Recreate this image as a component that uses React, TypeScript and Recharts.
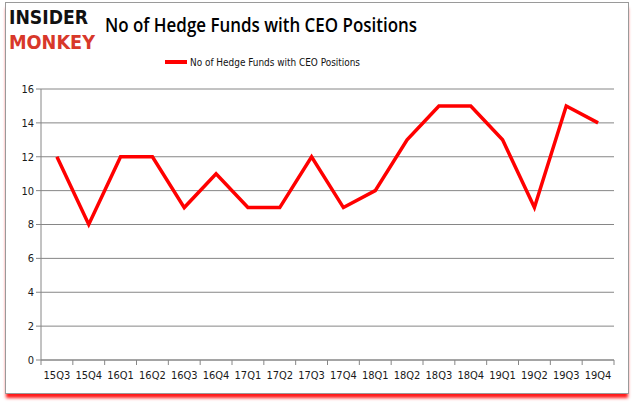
import { CartesianGrid, Line, LineChart, XAxis, YAxis } from "recharts";

const quarters = ["15Q3", "15Q4", "16Q1", "16Q2", "16Q3", "16Q4", "17Q1", "17Q2", "17Q3", "17Q4", "18Q1", "18Q2", "18Q3", "18Q4", "19Q1", "19Q2", "19Q3", "19Q4"];
const hedgeFunds = [12, 8, 12, 12, 9, 11, 9, 9, 12, 9, 10, 13, 15, 15, 13, 9, 15, 14];
const yTicks = [0, 2, 4, 6, 8, 10, 12, 14, 16];
const seriesName = "No of Hedge Funds with CEO Positions";

const data = quarters.map((q, i) => ({ q, v: hedgeFunds[i] }));

const PLOT_LEFT = 41;
const PLOT_RIGHT = 614;
const BAND = (PLOT_RIGHT - PLOT_LEFT) / quarters.length;

function QuarterTick(props: any) {
  const { x, y, payload, index } = props;
  return (
    <g>
      {index === 0 && <line x1={x - BAND / 2} x2={x - BAND / 2} y1={y - 8} y2={y - 3} stroke="#868686" />}
      <line x1={x + BAND / 2} x2={x + BAND / 2} y1={y - 8} y2={y - 3} stroke="#868686" />
      <text x={x} y={y + 11} textAnchor="middle" fontSize={11} fill="#1a1a1a" fontFamily="'DejaVu Sans Condensed', 'Liberation Sans Narrow', sans-serif">
        {payload.value}
      </text>
    </g>
  );
}

export default function App() {
  return (
    <div style={{ position: "absolute", left: 0, top: 0, width: 635, height: 405, background: "#fff", fontFamily: "'Liberation Sans', sans-serif" }}>
      <div style={{ position: "absolute", left: 5, top: 2, width: 622, height: 390, border: "1px solid #9a9a9a", boxShadow: "0 5px 3px -1px #ff1a1a" }} />
      <svg width={635} height={80} style={{ position: "absolute", left: 0, top: 0 }}>
        {/* logo */}
        <text x={9} y={24} fontSize={20} fontWeight={900} fill="#111" textLength={79} lengthAdjust="spacingAndGlyphs" fontFamily="'DejaVu Sans Condensed', sans-serif">INSIDER</text>
        <text x={9} y={49} fontSize={20} fontWeight={900} fill="#d8382a" textLength={86} lengthAdjust="spacingAndGlyphs" fontFamily="'DejaVu Sans Condensed', sans-serif">MONKEY</text>
        <text x={105} y={32} fontSize={20} fill="#000" textLength={312} lengthAdjust="spacingAndGlyphs" fontFamily="'Open Sans', sans-serif" fontWeight={600}>{seriesName}</text>
        <line x1={165} x2={187} y1={62} y2={62} stroke="#ff0000" strokeWidth={4} />
        <text x={190} y={66} fontSize={11} fill="#111" textLength={170} lengthAdjust="spacingAndGlyphs" fontFamily="'DejaVu Sans Condensed', sans-serif">{seriesName}</text>
      </svg>
      <div style={{ position: "absolute", left: 0, top: 0 }}>
        <LineChart width={635} height={405} data={data} margin={{ top: 89, right: 635 - PLOT_RIGHT, bottom: 15, left: 0 }}>
          <CartesianGrid vertical={false} stroke="#868686" strokeWidth={1} />
          <XAxis
            dataKey="q"
            height={30}
            padding={{ left: BAND / 2, right: BAND / 2 }}
            stroke="#868686"
            tickLine={false}
            interval={0}
            tick={<QuarterTick />}
          />
          <YAxis
            width={PLOT_LEFT}
            domain={[0, 16]}
            ticks={yTicks}
            interval={0}
            stroke="#868686"
            tickSize={5}
            tick={{ fontSize: 11, fill: "#1a1a1a", fontFamily: "'DejaVu Sans Condensed', sans-serif" }}
          />
          <Line type="linear" dataKey="v" stroke="#ff0000" strokeWidth={3.5} dot={false} isAnimationActive={false} />
        </LineChart>
      </div>
    </div>
  );
}
